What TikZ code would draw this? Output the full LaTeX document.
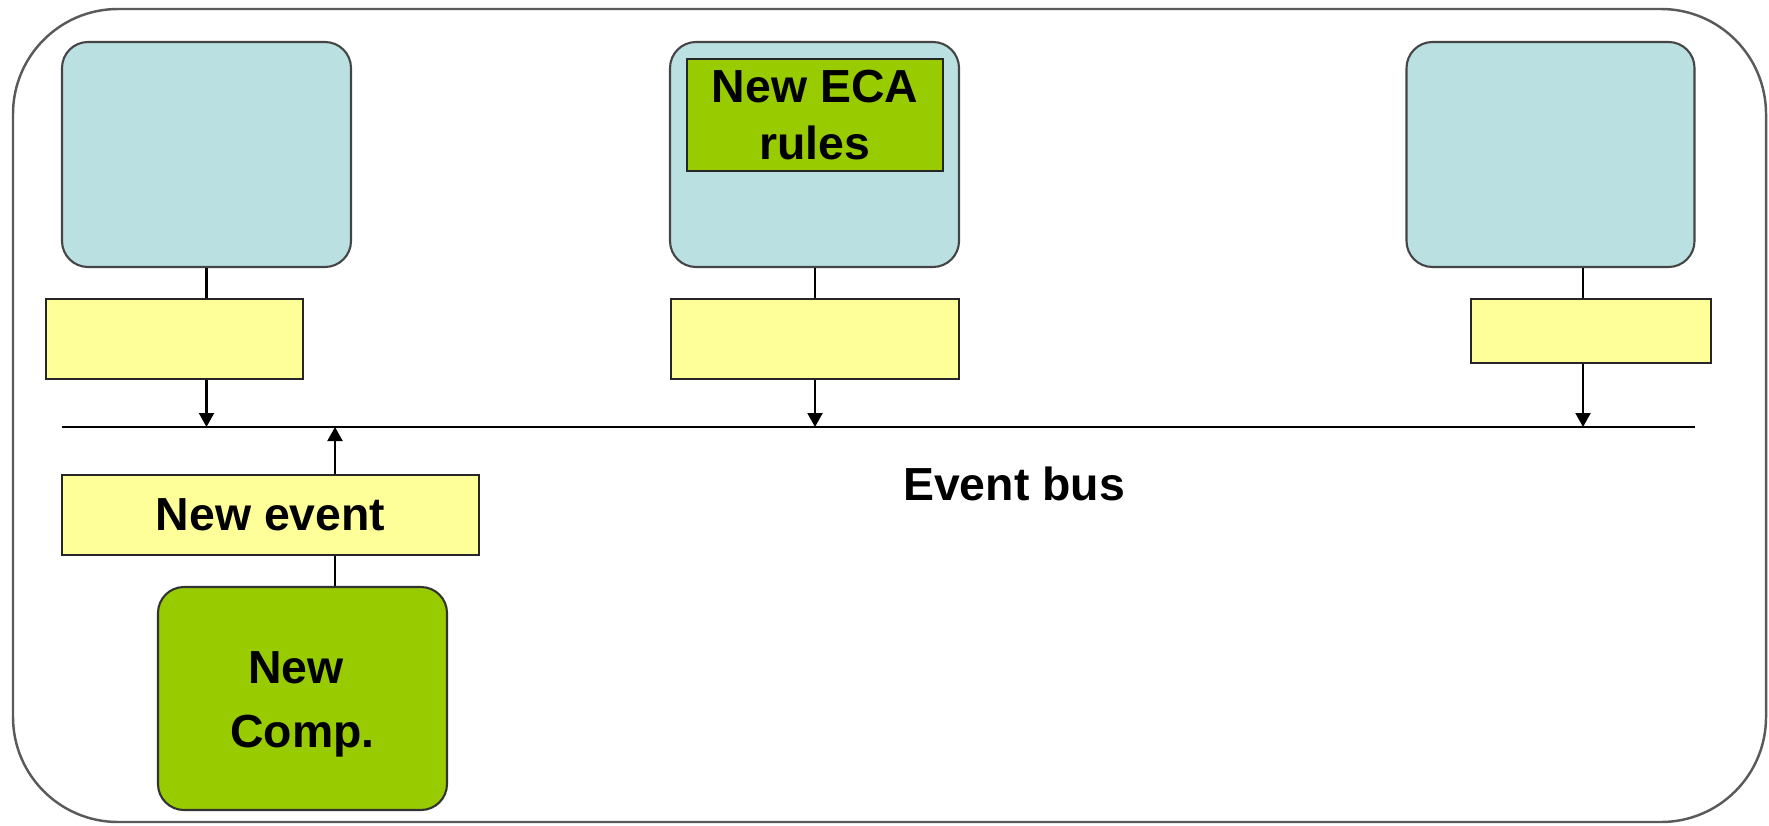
\documentclass[tikz,border=0pt]{standalone}
\usepackage{fontspec}
\setmainfont{Liberation Sans}
\usetikzlibrary{arrows.meta}
\definecolor{compblue}{HTML}{BAE0E2}
\definecolor{eventyellow}{HTML}{FFFF99}
\definecolor{newgreen}{HTML}{99CC00}
\definecolor{framegray}{HTML}{5A5A5A}
\definecolor{edgegray}{HTML}{454545}
\begin{document}
\begin{tikzpicture}[x=0.1mm, y=-0.1mm,
  lbl/.style={font=\fontsize{13.2}{16.4}\selectfont\bfseries, align=center},
  comp/.style={draw=edgegray, fill=compblue, rounded corners=2.6mm,
    line width=0.6pt, inner sep=0pt, minimum height=22.5mm},
  newcomp/.style={comp, fill=newgreen, draw=black!80},
  evbox/.style={draw=black!85, fill=eventyellow, line width=0.6pt,
    inner sep=0pt, lbl},
  rulebox/.style={draw=black!85, fill=newgreen, line width=0.6pt,
    inner sep=0pt, lbl},
  link/.style={draw=black, line width=0.6pt},
  tobus/.style={link, -{Triangle[width=1.5mm, length=1.4mm]}},
]
\useasboundingbox (0,0) rectangle (1769,825);

% enclosing frame
\draw[framegray, line width=0.7pt, rounded corners=10.5mm] (13,9) rectangle (1766,822);

% event bus
\coordinate (busL) at (62,427);
\coordinate (busR) at (1695,427);
\draw[link] (busL) -- (busR);
\coordinate (b1) at (206.5,427);
\coordinate (b2) at (815,427);
\coordinate (b3) at (1583,427);
\coordinate (b4) at (335,427);
\node[lbl] (buslabel) at (1014,484) {Event bus};

% components
\node[comp, minimum width=28.9mm] (c1) at (206.5,154.5) {};
\node[comp, minimum width=28.9mm] (c2) at (814.5,154.5) {};
\node[comp, minimum width=28.8mm] (c3) at (1550.5,154.5) {};
\node[rulebox, minimum width=25.6mm, minimum height=11.2mm] (eca) at (815,115) {New ECA\\rules};

% event adapters
\node[evbox, minimum width=25.7mm, minimum height=8mm] (y1) at (174.5,339) {};
\node[evbox, minimum width=28.8mm, minimum height=8mm] (y2) at (815,339) {};
\node[evbox, minimum width=24mm, minimum height=6.4mm] (y3) at (1591,331) {};

% new component and its event
\node[evbox, minimum width=41.7mm, minimum height=8mm] (nev) at (270.5,515) {New event};
\node[newcomp, minimum width=28.9mm, minimum height=22.3mm] (ncomp) at (302.5,698.5) {};
\node[lbl, font=\fontsize{13.2}{18.3}\selectfont\bfseries, inner sep=0pt]
  (ncomptext) at ([yshift=-0.6mm]ncomp.center) {New\hspace*{0.278em}\\Comp.};

% component to adapter links
\draw[link] (c1.south -| b1) -- (y1.north -| b1);
\draw[link] (c2.south -| b2) -- (y2.north -| b2);
\draw[link] (c3.south -| b3) -- (y3.north -| b3);
\draw[link] (ncomp.north -| b4) -- (nev.south -| b4);

% adapters to bus
\draw[tobus] (y1.south -| b1) -- (b1);
\draw[tobus] (y2.south -| b2) -- (b2);
\draw[tobus] (y3.south -| b3) -- (b3);
\draw[tobus] (nev.north -| b4) -- (b4);
\end{tikzpicture}
\end{document}
